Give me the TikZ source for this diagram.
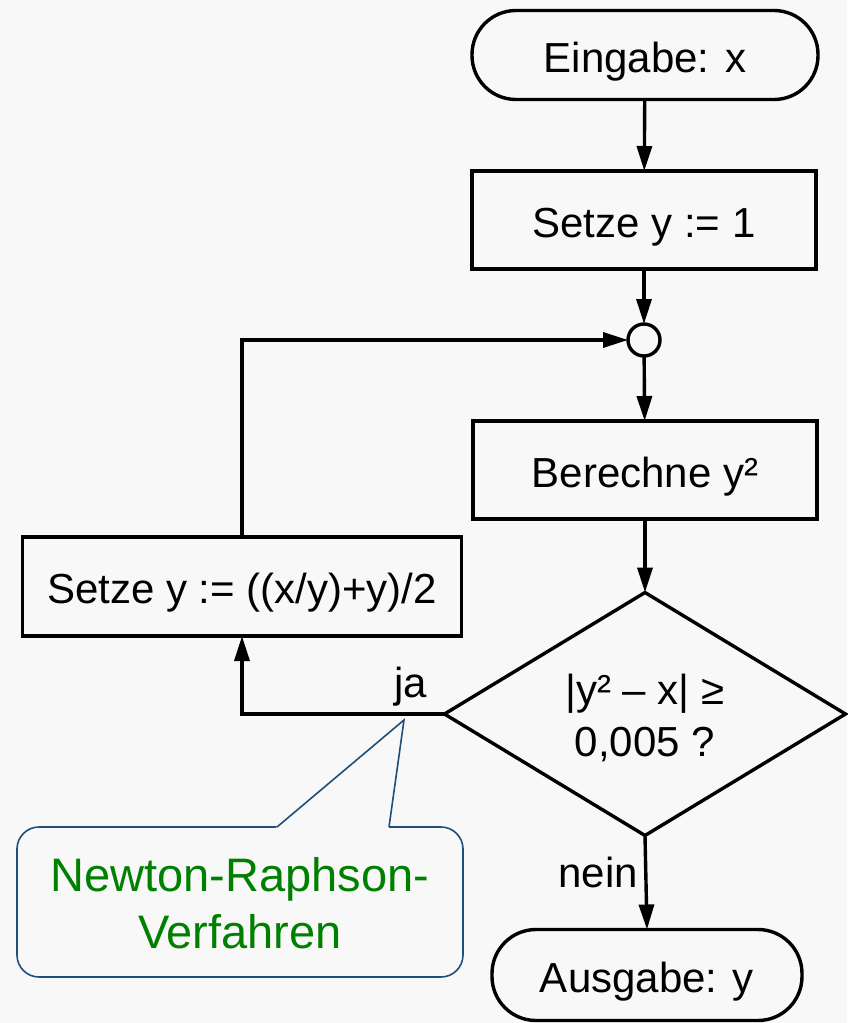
\documentclass[tikz,border=0pt]{standalone}
\usepackage{fontspec}
\setmainfont{Liberation Sans}
\usetikzlibrary{shapes.geometric,arrows.meta,calc}
\definecolor{bg}{HTML}{F8F8F8}
\definecolor{callblue}{HTML}{1F4E79}
\definecolor{callgreen}{HTML}{008000}
\begin{document}
\begin{tikzpicture}[x=1pt,y=-1pt,
  every node/.style={font=\fontsize{42}{52}\selectfont, inner sep=0pt, outer sep=0pt},
  flowline/.style={line width=3.4pt, -{Triangle[length=25pt,width=15pt]}},
  boxtext/.style={text height=40pt, text depth=6pt},
  procbox/.style={draw, line width=3.4pt, rectangle, boxtext, minimum width=344pt, minimum height=98pt},
  terminal/.style={draw, line width=3.4pt, rectangle, boxtext, rounded corners=44pt, minimum height=89pt},
  decision/.style={draw, line width=3.4pt, diamond, minimum width=401pt, minimum height=243pt},
  junction/.style={draw, line width=3.4pt, circle, minimum size=32pt, fill=bg},
  calloutline/.style={draw=callblue, line width=1.6pt},
  callouttext/.style={text=callgreen, font=\fontsize{47}{57}\selectfont, align=center}]
\path[fill=bg] (0,0) rectangle (847,1023);
\useasboundingbox (0,0) rectangle (847,1023);

\node[terminal, minimum width=346pt] (in) at (645,55) {Eingabe: x};
\node[procbox] (s1) at (644,220) {Setze y := 1};
\node[junction] (j) at (644,340) {};
\node[procbox] (ber) at (645,470) {Berechne y²};
\node[decision] (dec) at (645,714) {};
\node[align=center] (dectext) at (645,718) {|y² – x| ≥\\0,005 ?};
\node[terminal, minimum width=310pt, minimum height=91pt] (out) at (647,975) {Ausgabe: y};
\node[procbox, minimum width=439pt, minimum height=99pt] (s2) at (242,586.5) {Setze y := ((x/y)+y)/2};

\draw[flowline] (in) -- (s1);
\draw[flowline] (s1) -- (j);
\draw[flowline] (j) -- (ber);
\draw[flowline] (ber) -- (dec);
\draw[flowline] (dec.south) -- (out.north);
\node[anchor=base east] (nein) at (638,887) {nein};
\draw[flowline] (dec.west) -| (s2.south);
\node[anchor=base] (ja) at (411,697) {ja};
\draw[flowline] (s2.north) |- (j.west);

% callout
\node[draw=callblue, line width=1.6pt, rounded corners=22pt, minimum width=446pt, minimum height=150pt] (cb) at (240,902) {};
\coordinate (tip) at (404,720);
\coordinate (pa) at (277,827);
\coordinate (pb) at (389,827);
\fill[bg] ($(tip)!1.02!(pa)$) -- (tip) -- ($(tip)!1.02!(pb)$) -- cycle;
\draw[calloutline, line join=miter] (pa) -- (tip) -- (pb);
\node[callouttext] (ct) at (240,903) {Newton-Raphson-\\Verfahren};
\end{tikzpicture}
\end{document}
